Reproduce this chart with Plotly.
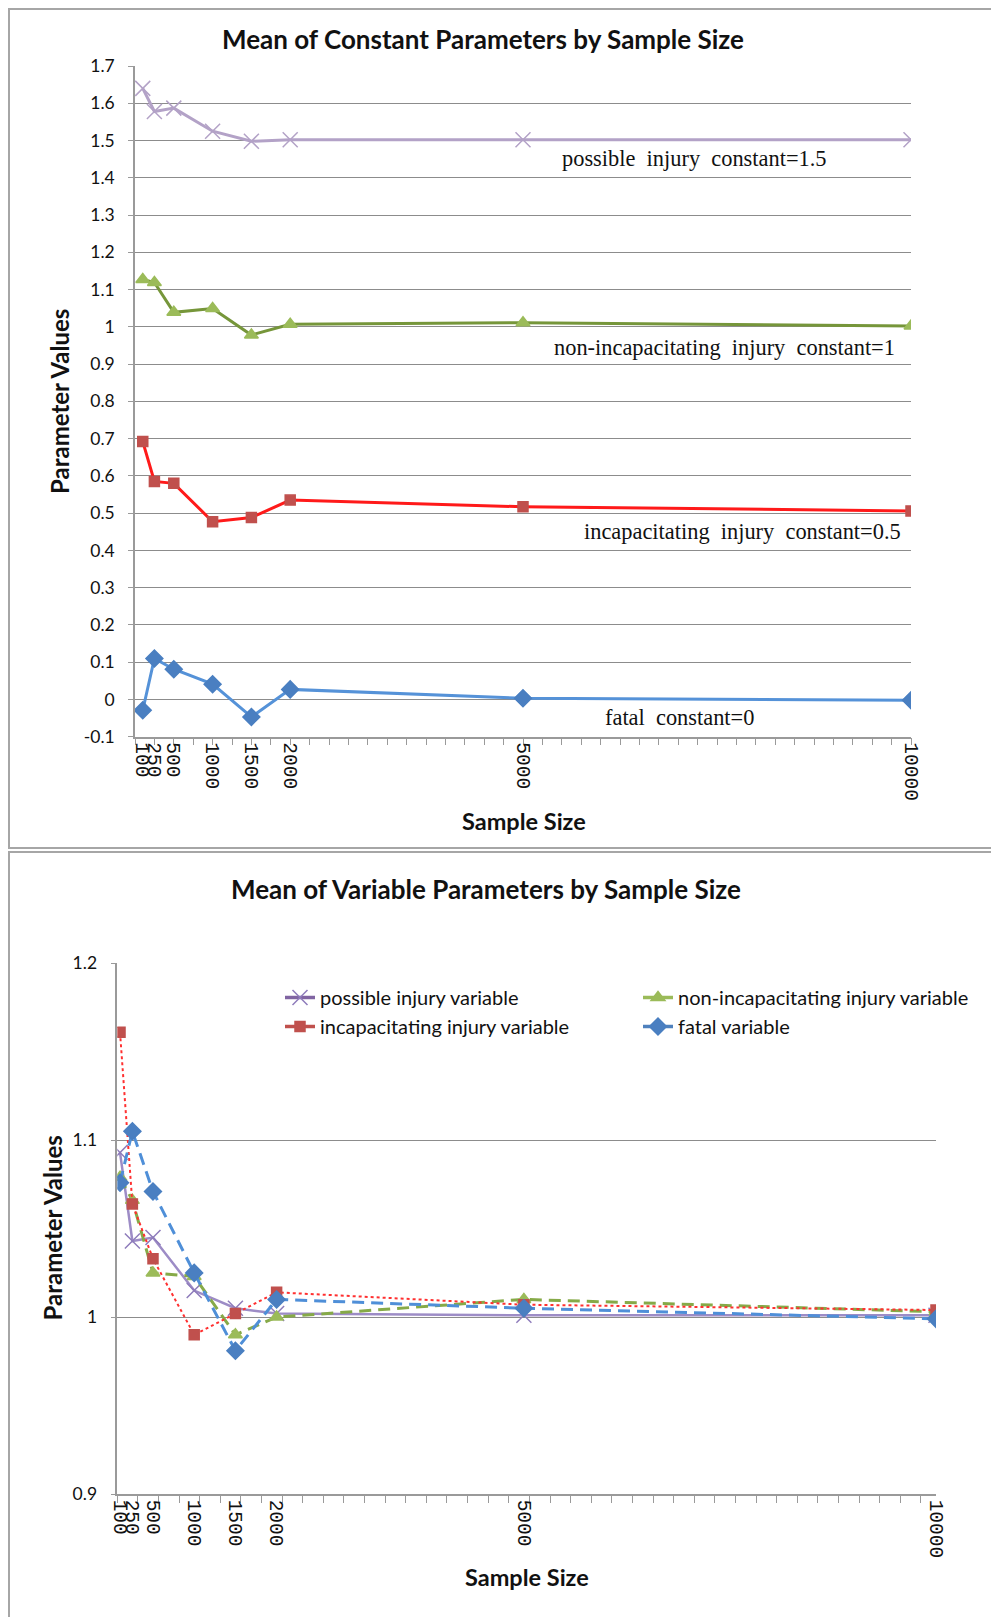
import plotly.graph_objects as go

# ---------------- data ----------------
sample_sizes = [100, 250, 500, 1000, 1500, 2000, 5000, 10000]
size_labels = ["100", "250", "500", "1000", "1500", "2000", "5000", "10000"]

# Top chart: constant parameters
possible_const = [1.640, 1.578, 1.587, 1.525, 1.498, 1.502, 1.502, 1.502]
nonincap_const = [1.127, 1.119, 1.039, 1.049, 0.978, 1.007, 1.011, 1.002]
incap_const = [0.692, 0.585, 0.580, 0.477, 0.488, 0.535, 0.517, 0.506]
fatal_const = [-0.029, 0.110, 0.081, 0.041, -0.047, 0.027, 0.003, -0.002]

const_names = ["possible injury constant", "non-incapacitating injury constant",
               "incapacitating injury constant", "fatal constant"]
const_notes = ["possible\u00a0 injury\u00a0 constant=1.5",
               "non-incapacitating\u00a0 injury\u00a0 constant=1",
               "incapacitating\u00a0 injury\u00a0 constant=0.5",
               "fatal\u00a0 constant=0"]

# Bottom chart: variable parameters
possible_var = [1.093, 1.043, 1.045, 1.015, 1.005, 1.002, 1.001, 1.001]
nonincap_var = [1.079, 1.066, 1.025, 1.023, 0.990, 1.000, 1.010, 1.003]
incap_var = [1.161, 1.064, 1.033, 0.990, 1.002, 1.014, 1.007, 1.004]
fatal_var = [1.076, 1.105, 1.071, 1.025, 0.981, 1.010, 1.005, 0.999]

var_names = ["possible injury variable", "non-incapacitating injury variable",
             "incapacitating injury variable", "fatal variable"]

top_y_ticks = [1.7, 1.6, 1.5, 1.4, 1.3, 1.2, 1.1, 1.0, 0.9, 0.8, 0.7, 0.6, 0.5,
               0.4, 0.3, 0.2, 0.1, 0.0, -0.1]
top_y_labels = ["1.7", "1.6", "1.5", "1.4", "1.3", "1.2", "1.1", "1", "0.9", "0.8",
                "0.7", "0.6", "0.5", "0.4", "0.3", "0.2", "0.1", "0", "-0.1"]
bot_y_ticks = [1.2, 1.1, 1.0, 0.9]
bot_y_labels = ["1.2", "1.1", "1", "0.9"]

# ---------------- layout helpers ----------------
# the page body has an 8px margin, so the figure is shifted by 8px
OFF = 8
W, H = 999 - OFF, 1617 - OFF


def px(x):
    return (x - OFF) / W


def py(y):
    return 1 - (y - OFF) / H


GRID = "#8c8c8c"
AXIS = "#9a9a9a"
SANS = "Lato, 'Open Sans', sans-serif"
SERIF = "'Liberation Serif', 'Times New Roman', serif"
MONO = "'Liberation Mono', 'DejaVu Sans Mono', monospace"

fig = go.Figure()

# ---------------- top traces ----------------
top_series = [possible_const, nonincap_const, incap_const, fatal_const]
top_line_colors = ["#b3a2c7", "#76963a", "#ff1a1a", "#5592d8"]
top_marker_colors = ["#b3a2c7", "#9bbb59", "#c0504d", "#4a7fc1"]
top_symbols = ["x-thin-open", "triangle-up", "square", "diamond"]
top_sizes = [15, 12, 10, 13]
for name, vals, lc, mc, sym, sz in zip(const_names, top_series, top_line_colors,
                                        top_marker_colors, top_symbols, top_sizes):
    fig.add_trace(go.Scatter(
        x=sample_sizes, y=vals, name=name, mode="lines+markers",
        line=dict(color=lc, width=3),
        marker=dict(symbol=sym, size=sz, color=mc,
                    line=dict(color=mc, width=1.5)),
        xaxis="x", yaxis="y", showlegend=False))

# ---------------- bottom traces ----------------
bot_series = [possible_var, nonincap_var, incap_var, fatal_var]
bot_line_colors = ["#9d8cc6", "#86aa48", "#ff3030", "#4f8fd8"]
bot_marker_colors = ["#8e7cbb", "#9bbb59", "#c0504d", "#4a7fc1"]
legend_line_colors = ["#8064a2", "#9bbb59", "#c0504d", "#4f81bd"]
bot_dash = ["solid", "12px,7px", "3px,3px", "12px,7px"]
bot_width = [2.5, 3, 2, 3]
for name, vals, lc, mc, sym, sz, dash, lw, llc in zip(
        var_names, bot_series, bot_line_colors, bot_marker_colors, top_symbols,
        top_sizes, bot_dash, bot_width, legend_line_colors):
    fig.add_trace(go.Scatter(
        x=sample_sizes, y=vals, name=name, mode="lines+markers",
        line=dict(color=lc, width=lw, dash=dash),
        marker=dict(symbol=sym, size=sz, color=mc,
                    line=dict(color=mc, width=1.5)),
        xaxis="x2", yaxis="y2", showlegend=False, legendgroup=name))
    # legend key (Excel shows solid keys for every series)
    fig.add_trace(go.Scatter(
        x=[None], y=[None], name=name, mode="lines+markers",
        line=dict(color=llc, width=3.5),
        marker=dict(symbol=sym, size=sz, color=mc,
                    line=dict(color=mc, width=1.5)),
        xaxis="x2", yaxis="y2", showlegend=True, legendgroup=name))

# ---------------- axes ----------------
xcommon = dict(
    tickmode="array", tickvals=sample_sizes, ticktext=size_labels,
    tickangle=90, ticks="", showgrid=False, zeroline=False,
    showline=True, linecolor=AXIS, linewidth=1.5,
    tickfont=dict(family=MONO, size=19.5, color="#111"),
    automargin=False,
    minor=dict(ticks="outside", ticklen=7, tickcolor=AXIS, tickwidth=1, dtick=250,
               showgrid=False),
)
ycommon = dict(
    tickmode="array", showgrid=True, gridcolor=GRID, gridwidth=1.3,
    zeroline=False, showline=True, linecolor=AXIS, linewidth=1.5,
    ticks="outside", ticklen=5, tickcolor=AXIS, automargin=False,
    ticklabelstandoff=10,
    tickfont=dict(family=SANS, size=17.5, color="#111"),
)

fig.update_layout(
    width=W, height=H,
    margin=dict(l=0, r=0, t=0, b=0, pad=0, autoexpand=False),
    paper_bgcolor="white", plot_bgcolor="white",
    xaxis=dict(domain=[px(135), px(911)], range=[0, 10000], anchor="y",
               **{**xcommon, "minor": {**xcommon["minor"], "tick0": 0}}),
    yaxis=dict(domain=[py(736.7), py(66)], range=[-0.1, 1.7], anchor="x",
               tickvals=top_y_ticks, ticktext=top_y_labels, **ycommon),
    xaxis2=dict(domain=[px(117.3), px(936)], range=[67, 10000], anchor="y2",
                **{**xcommon, "minor": {**xcommon["minor"], "tick0": 67}}),
    yaxis2=dict(domain=[py(1494), py(963.3)], range=[0.9, 1.2], anchor="x2",
                tickvals=bot_y_ticks, ticktext=bot_y_labels, **ycommon),
    legend=dict(orientation="h", x=px(280), y=py(978), xanchor="left", yanchor="top",
                entrywidth=313, bgcolor="rgba(0,0,0,0)",
                font=dict(family=SANS, size=20, color="#111"),
                tracegroupgap=0, itemwidth=30),
    showlegend=True,
)

# ---------------- panel borders ----------------
fig.add_shape(type="rect", xref="paper", yref="paper",
              x0=px(9), x1=px(998), y0=py(848), y1=py(9),
              line=dict(color="#a6a6a6", width=2), fillcolor="rgba(0,0,0,0)", layer="below")
fig.add_shape(type="rect", xref="paper", yref="paper",
              x0=px(9), x1=px(1010), y0=py(1625), y1=py(852),
              line=dict(color="#a6a6a6", width=2), fillcolor="rgba(0,0,0,0)", layer="below")

# ---------------- text ----------------
ann = []
ann.append(dict(text="<b>Mean of Constant Parameters by Sample Size</b>", x=px(483), y=py(39),
                font=dict(family=SANS, size=26, color="#111")))
ann.append(dict(text="<b>Mean of Variable Parameters by Sample Size</b>", x=px(485.5), y=py(889),
                font=dict(family=SANS, size=26, color="#111")))
ann.append(dict(text="<b>Parameter Values</b>", x=px(60), y=py(402), textangle=-90,
                font=dict(family=SANS, size=24, color="#111")))
ann.append(dict(text="<b>Parameter Values</b>", x=px(51.5), y=py(1228), textangle=-90,
                font=dict(family=SANS, size=24, color="#111")))
ann.append(dict(text="<b>Sample Size</b>", x=px(524), y=py(821),
                font=dict(family=SANS, size=23.5, color="#111")))
ann.append(dict(text="<b>Sample Size</b>", x=px(527), y=py(1577),
                font=dict(family=SANS, size=23.5, color="#111")))

note_pos = [(694, 158), (724, 347.7), (742, 531.5), (679, 717.4)]
for txt, (nx, ny) in zip(const_notes, note_pos):
    ann.append(dict(text=txt, x=px(nx), y=py(ny),
                    font=dict(family=SERIF, size=22.4, color="#111")))

for a in ann:
    a.update(xref="paper", yref="paper", showarrow=False, xanchor="center", yanchor="middle")
fig.update_layout(annotations=ann)

fig.write_html("out.html")
